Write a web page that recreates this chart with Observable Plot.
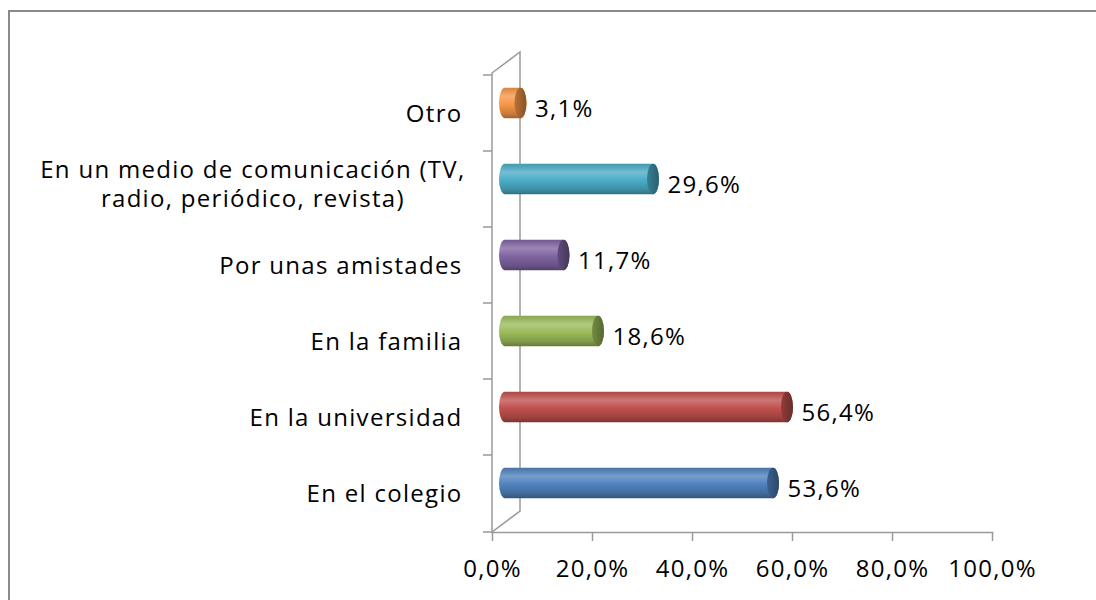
<!DOCTYPE html>
<html><head><meta charset="utf-8">
<script src="https://cdn.jsdelivr.net/npm/d3@7"></script>
<script src="https://cdn.jsdelivr.net/npm/@observablehq/plot@0.6"></script>
<style>
html,body{margin:0;padding:0;background:#fff;overflow:hidden}
#wrap{position:relative;width:1096px;height:600px}
#chart{position:absolute;left:0;top:0}
#border{position:absolute;left:8px;top:10px;width:1200px;height:700px;border-left:2.5px solid #8a8a8a;border-top:2.5px solid #8a8a8a;box-sizing:border-box;pointer-events:none}
</style></head><body>
<div id="wrap"><div id="chart"></div><div id="border"></div></div>
<script>
const categories = ["Otro", "En un medio de comunicación (TV,\nradio, periódico, revista)", "Por unas amistades", "En la familia", "En la universidad", "En el colegio"];
const values = [3.1, 29.6, 11.7, 18.6, 56.4, 53.6];
const colors = ["#f79646", "#4bacc6", "#8064a2", "#9bbb59", "#c0504d", "#4f81bd"];
const xTicks = [0, 20, 40, 60, 80, 100];

const fmt = v => v.toFixed(1).replace(".", ",") + "%";
const data = categories.map((c, i) => ({category: c, value: values[i], idx: i}));

const FONT = "'Open Sans', sans-serif";
const AX = "#9a9a9a";
const DX = 13, DY = -10, INS = 22.75;

// 3D side wall and category ticks, drawn from the scales
function wall(index, scales, vals, dim) {
  const x0 = scales.x(0);
  const top = dim.marginTop, bottom = dim.height - dim.marginBottom;
  const ox = 2 * DX + 2, oy = 2 * DY - 1;
  const g = d3.create("svg:g").attr("fill", "none").attr("stroke", AX).attr("stroke-width", 1.5);
  g.append("path").attr("d", `M${x0},${top}L${x0 + ox},${top + oy}L${x0 + ox},${bottom + oy}L${x0},${bottom}Z`);
  const ys = categories.map(c => scales.y(c)).concat([bottom]);
  for (const y of ys) g.append("line").attr("x1", x0 - 9).attr("x2", x0).attr("y1", y).attr("y2", y);
  return g.node();
}

const barMarks = data.flatMap((d, i) => [
  Plot.barX([d], {x1: 0, x2: "value", y: "category", dx: DX, dy: DY, insetTop: INS, insetBottom: INS,
    insetLeft: -6, insetRight: -6, rx: 6, ry: 15.5, fill: `url(#body${i})`}),
  Plot.barX([d], {x1: "value", x2: "value", y: "category", dx: DX, dy: DY, insetTop: INS, insetBottom: INS,
    insetLeft: -6, insetRight: -6, rx: 6, ry: 15.5, fill: `url(#cap${i})`})
]);

const svg = Plot.plot({
  width: 1096, height: 600,
  marginLeft: 492, marginRight: 104, marginTop: 73, marginBottom: 68,
  style: {fontFamily: FONT, background: "transparent", overflow: "visible", letterSpacing: "1.3px"},
  x: {domain: [0, 100], axis: null},
  y: {domain: categories, padding: 0, axis: null},
  marks: [
    wall,
    Plot.frame({anchor: "bottom", stroke: AX, strokeWidth: 1.5}),
    Plot.axisX({ticks: xTicks, tickFormat: fmt, tickSize: 9, tickPadding: 18, fontSize: 24,
      stroke: AX, strokeWidth: 1.5, fill: "#000", label: null}),
    ...barMarks,
    Plot.text(data, {x: "value", y: "category", text: d => fmt(d.value), textAnchor: "start",
      dx: 27, dy: -4, fontSize: 24, fill: "#000"}),
    Plot.text(data, {frameAnchor: "left", y: "category", text: "category", textAnchor: "end",
      dx: -30, dy: -1, fontSize: 24, fill: "#000", lineHeight: 1.2})
  ]
});

// gradients for the cylinders
const defs = d3.select(svg).insert("defs", ":first-child");
colors.forEach((c, i) => {
  const mix = (a, t) => d3.interpolateRgb(c, a)(t);
  const gb = defs.append("linearGradient").attr("id", "body" + i).attr("x1", 0).attr("y1", 0).attr("x2", 0).attr("y2", 1);
  [[0, mix("#000", 0.12)], [0.28, mix("#fff", 0.22)], [0.55, c], [0.85, mix("#000", 0.18)], [1, mix("#000", 0.35)]]
    .forEach(([o, col]) => gb.append("stop").attr("offset", o).attr("stop-color", col));
  const gc = defs.append("linearGradient").attr("id", "cap" + i).attr("x1", 0).attr("y1", 0).attr("x2", 1).attr("y2", 0);
  [[0, mix("#000", 0.25)], [1, mix("#000", 0.45)]]
    .forEach(([o, col]) => gc.append("stop").attr("offset", o).attr("stop-color", col));
});

document.getElementById("chart").appendChild(svg);

// multiline category label: block right-aligned, lines centered
d3.select(svg).selectAll("text").each(function() {
  const tspans = this.querySelectorAll("tspan");
  if (tspans.length > 1) {
    const w = d3.max(Array.from(tspans), t => t.getComputedTextLength());
    this.setAttribute("text-anchor", "middle");
    const tr = this.getAttribute("transform") || "";
    this.setAttribute("transform", tr + ` translate(${-w / 2 + 3},-5)`);
  }
});
</script>
</body></html>
